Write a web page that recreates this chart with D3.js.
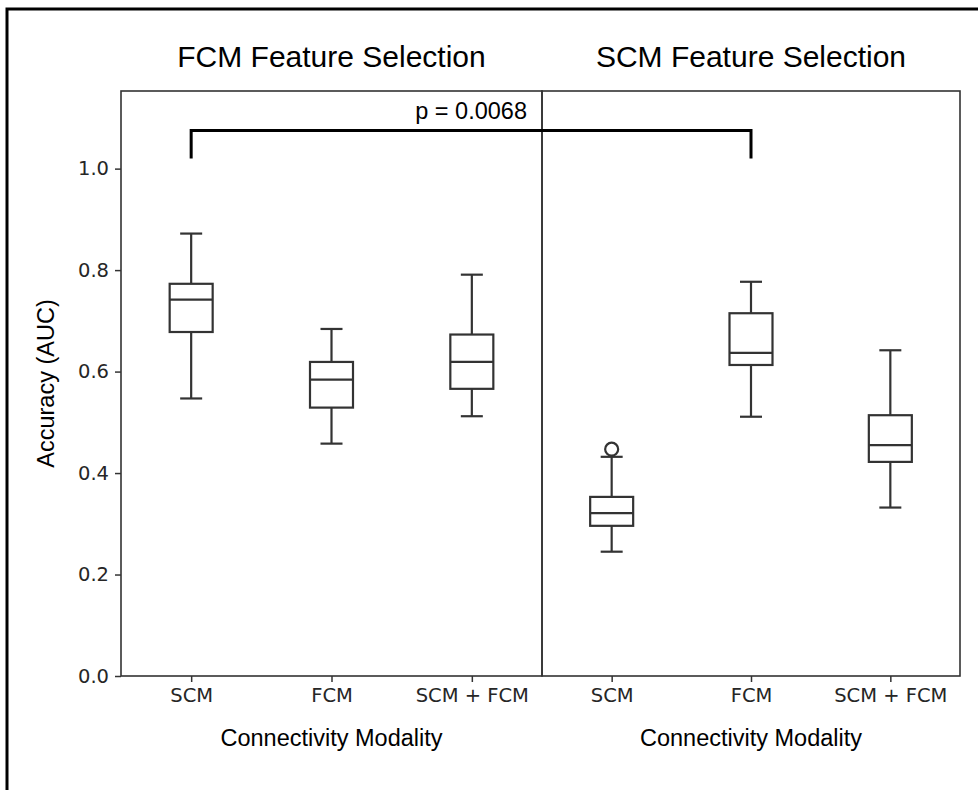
<!DOCTYPE html>
<html>
<head>
<meta charset="utf-8">
<script src="https://cdn.jsdelivr.net/npm/d3@7"></script>
<style>
  body { margin: 0; background: #fff; }
  text { fill: #262626; }
</style>
</head>
<body>
<div id="chart"></div>
<script>
// data
const panelTitles = ["FCM Feature Selection", "SCM Feature Selection"];
const categories = ["SCM", "FCM", "SCM + FCM"];
const whiskerLow = [[0.547, 0.458, 0.512], [0.245, 0.511, 0.332]];
const q1 = [[0.678, 0.529, 0.566], [0.296, 0.613, 0.422]];
const median = [[0.742, 0.584, 0.619], [0.321, 0.637, 0.455]];
const q3 = [[0.773, 0.619, 0.673], [0.353, 0.715, 0.514]];
const whiskerHigh = [[0.872, 0.684, 0.791], [0.432, 0.777, 0.642]];
const outliers = [[[], [], []], [[0.447], [], []]];
const yTicks = [0.0, 0.2, 0.4, 0.6, 0.8, 1.0];
const pLabel = "p = 0.0068";

const width = 978, height = 790;
const plotTop = 91, plotBottom = 676;
const panelEdges = [[121, 542], [542, 960]];

const svg = d3.select("#chart")
    .append("svg")
    .attr("width", width)
    .attr("height", height);

// outer frame (top and left only)
svg.append("path")
    .attr("d", `M${width},9 H7 V${height}`)
    .attr("fill", "none")
    .attr("stroke", "#000")
    .attr("stroke-width", 3);

const y = d3.scaleLinear()
    .domain([0, 1.153])
    .range([plotBottom, plotTop]);

const xs = panelEdges.map(e => d3.scalePoint()
    .domain(categories)
    .range(e)
    .padding(0.5));

const lineColor = "#333";
const boxW = 43, capW = 22;

panelEdges.forEach((edge, p) => {
    const x = xs[p];
    const g = svg.append("g");

    // x axis
    const xAxis = g.append("g")
        .attr("transform", `translate(0,${plotBottom})`)
        .call(d3.axisBottom(x).tickSize(6).tickPadding(6).tickSizeOuter(0));
    xAxis.select(".domain").remove();
    xAxis.selectAll(".tick line").attr("stroke", lineColor).attr("stroke-width", 1.5);
    xAxis.selectAll(".tick text")
        .attr("font-family", "DejaVu Sans")
        .attr("font-size", 19.5)
        .attr("fill", "#262626");

    // panel frame
    g.append("rect")
        .attr("x", edge[0])
        .attr("y", plotTop)
        .attr("width", edge[1] - edge[0])
        .attr("height", plotBottom - plotTop)
        .attr("fill", "none")
        .attr("stroke", lineColor)
        .attr("stroke-width", 1.6);

    // titles
    g.append("text")
        .attr("x", (edge[0] + edge[1]) / 2)
        .attr("y", 67)
        .attr("text-anchor", "middle")
        .attr("font-family", "Liberation Sans, Arial")
        .attr("font-size", 30)
        .style("fill", "#000")
        .text(panelTitles[p]);

    g.append("text")
        .attr("x", (edge[0] + edge[1]) / 2)
        .attr("y", 746)
        .attr("text-anchor", "middle")
        .attr("font-family", "Liberation Sans, Arial")
        .attr("font-size", 23.5)
        .style("fill", "#000")
        .text("Connectivity Modality");

    // boxes
    categories.forEach((c, i) => {
        const cx = x(c);
        const bg = g.append("g")
            .attr("stroke", lineColor)
            .attr("stroke-width", 2.2)
            .attr("fill", "none");
        bg.append("line")
            .attr("x1", cx).attr("x2", cx)
            .attr("y1", y(q3[p][i])).attr("y2", y(whiskerHigh[p][i]));
        bg.append("line")
            .attr("x1", cx).attr("x2", cx)
            .attr("y1", y(q1[p][i])).attr("y2", y(whiskerLow[p][i]));
        bg.append("line")
            .attr("x1", cx - capW / 2).attr("x2", cx + capW / 2)
            .attr("y1", y(whiskerHigh[p][i])).attr("y2", y(whiskerHigh[p][i]));
        bg.append("line")
            .attr("x1", cx - capW / 2).attr("x2", cx + capW / 2)
            .attr("y1", y(whiskerLow[p][i])).attr("y2", y(whiskerLow[p][i]));
        bg.append("rect")
            .attr("x", cx - boxW / 2)
            .attr("y", y(q3[p][i]))
            .attr("width", boxW)
            .attr("height", y(q1[p][i]) - y(q3[p][i]));
        bg.append("line")
            .attr("x1", cx - boxW / 2).attr("x2", cx + boxW / 2)
            .attr("y1", y(median[p][i])).attr("y2", y(median[p][i]));
        bg.selectAll("circle")
            .data(outliers[p][i])
            .enter().append("circle")
            .attr("cx", cx)
            .attr("cy", d => y(d))
            .attr("r", 6.5);
    });
});

// y axis on left panel
const yAxis = svg.append("g")
    .attr("transform", `translate(${panelEdges[0][0]},0)`)
    .call(d3.axisLeft(y).tickValues(yTicks).tickFormat(d3.format(".1f")).tickSize(6).tickPadding(6));
yAxis.select(".domain").remove();
yAxis.selectAll(".tick line").attr("stroke", lineColor).attr("stroke-width", 1.5);
yAxis.selectAll(".tick text")
    .attr("font-family", "DejaVu Sans")
    .attr("font-size", 19.5)
    .attr("fill", "#262626");

svg.append("text")
    .attr("transform", `translate(54,${(plotTop + plotBottom) / 2}) rotate(-90)`)
    .attr("text-anchor", "middle")
    .attr("font-family", "Liberation Sans, Arial")
    .attr("font-size", 23.5)
    .style("fill", "#000")
    .text("Accuracy (AUC)");

// significance bracket
const bx1 = xs[0]("SCM"), bx2 = xs[1]("FCM");
svg.append("path")
    .attr("d", `M${bx1},${y(1.02)} V${y(1.075)} H${bx2} V${y(1.02)}`)
    .attr("fill", "none")
    .attr("stroke", "#000")
    .attr("stroke-width", 3);

svg.append("text")
    .attr("x", 527)
    .attr("y", y(1.075) - 12)
    .attr("text-anchor", "end")
    .attr("font-family", "Liberation Sans, Arial")
    .attr("font-size", 23.5)
    .style("fill", "#000")
    .text(pLabel);
</script>
</body>
</html>
